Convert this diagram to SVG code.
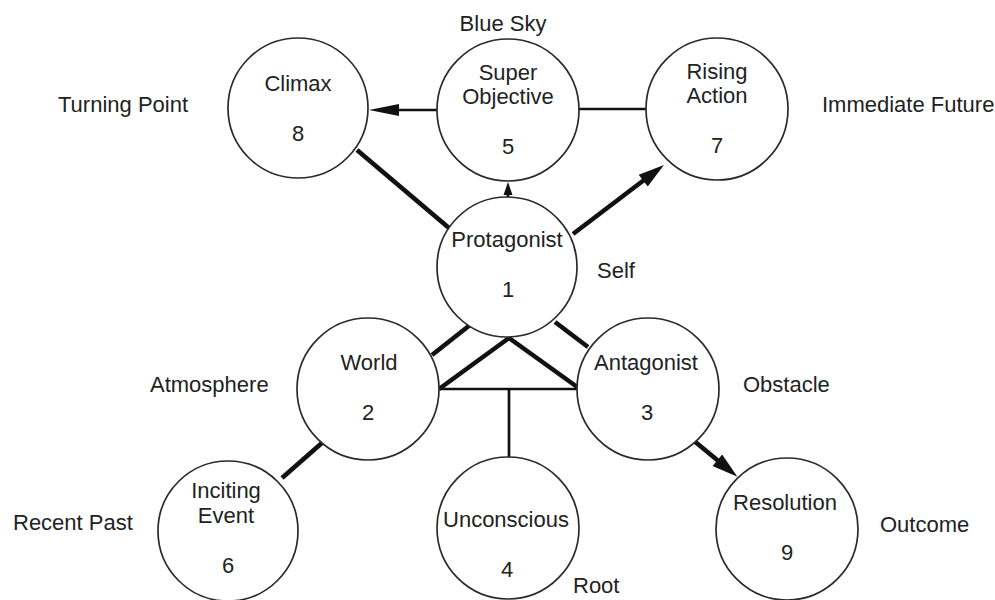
<svg xmlns="http://www.w3.org/2000/svg" width="995" height="600" viewBox="0 0 995 600">
<style>
  text { font-family: "Liberation Sans", Arial, Helvetica, sans-serif; font-size: 22px; fill: #222; }
  .n text { text-anchor: middle; }
  .n circle { fill: #fff; stroke: #2a2a2a; stroke-width: 1.7; }
  .c line, .c polyline { stroke: #111; fill: none; }
  .thick { stroke-width: 4.6; }
  .thin { stroke-width: 2.7; }
</style>
<defs>
  <marker id="big" markerUnits="userSpaceOnUse" markerWidth="26" markerHeight="15" refX="6" refY="7.5" orient="auto" overflow="visible">
    <path d="M0,0 L26,7.5 L0,15 z" fill="#111"/>
  </marker>
  <marker id="mid" markerUnits="userSpaceOnUse" markerWidth="30" markerHeight="12" refX="6" refY="6" orient="auto" overflow="visible">
    <path d="M0,0 L30,6 L0,12 z" fill="#111"/>
  </marker>
  <marker id="small" markerUnits="userSpaceOnUse" markerWidth="13" markerHeight="9" refX="3" refY="4.5" orient="auto" overflow="visible">
    <path d="M0,0 L13,4.5 L0,9 z" fill="#111"/>
  </marker>
</defs>
<rect width="995" height="600" fill="#fff"/>

<g id="connectors" class="c">
  <line class="thin" x1="437" y1="110" x2="393" y2="110" marker-end="url(#mid)"/>
  <line class="thin" x1="579" y1="109" x2="646" y2="109"/>
  <line class="thin" x1="508" y1="197" x2="508" y2="192" marker-end="url(#small)"/>
  <line class="thick" x1="357" y1="150" x2="449" y2="228"/>
  <line class="thick" x1="573" y1="234" x2="648" y2="177" marker-end="url(#big)"/>
  <line class="thick" x1="470" y1="325" x2="432" y2="355"/>
  <line class="thick" x1="555" y1="322" x2="588" y2="347"/>
  <polyline class="thick" points="439,389 509,338 580,389"/>
  <line class="thin" x1="439" y1="389" x2="580" y2="389"/>
  <line class="thin" x1="509" y1="389" x2="509" y2="458"/>
  <line class="thick" x1="323" y1="442" x2="282" y2="478"/>
  <line class="thick" x1="693" y1="440" x2="722" y2="464" marker-end="url(#big)"/>
</g>

<g id="node8" class="n">
  <circle cx="298" cy="108" r="70"/>
  <text x="298" y="91">Climax</text>
  <text x="298" y="141">8</text>
</g>
<g id="node5" class="n">
  <circle cx="508" cy="110" r="71"/>
  <text x="508" y="80">Super</text>
  <text x="508" y="104">Objective</text>
  <text x="508" y="154">5</text>
</g>
<g id="node7" class="n">
  <circle cx="717" cy="109" r="71"/>
  <text x="717" y="79">Rising</text>
  <text x="717" y="103">Action</text>
  <text x="717" y="153">7</text>
</g>
<g id="node1" class="n">
  <circle cx="507" cy="267" r="70"/>
  <text x="507" y="247">Protagonist</text>
  <text x="508" y="297">1</text>
</g>
<g id="node2" class="n">
  <circle cx="368" cy="389" r="71"/>
  <text x="369" y="370">World</text>
  <text x="368" y="420">2</text>
</g>
<g id="node3" class="n">
  <circle cx="648" cy="389" r="71"/>
  <text x="646" y="370">Antagonist</text>
  <text x="647" y="420">3</text>
</g>
<g id="node6" class="n">
  <circle cx="228" cy="531" r="70"/>
  <text x="226" y="498">Inciting</text>
  <text x="226" y="523">Event</text>
  <text x="228" y="573">6</text>
</g>
<g id="node4" class="n">
  <circle cx="508" cy="528" r="71"/>
  <text x="506" y="527">Unconscious</text>
  <text x="507" y="577">4</text>
</g>
<g id="node9" class="n">
  <circle cx="787" cy="529" r="71"/>
  <text x="785" y="510">Resolution</text>
  <text x="787" y="560">9</text>
</g>

<g id="labels">
  <text x="503" y="31" text-anchor="middle">Blue Sky</text>
  <text x="58" y="112">Turning Point</text>
  <text x="822" y="112">Immediate Future</text>
  <text x="597" y="278">Self</text>
  <text x="150" y="392">Atmosphere</text>
  <text x="743" y="392">Obstacle</text>
  <text x="13" y="530">Recent Past</text>
  <text x="880" y="532">Outcome</text>
  <text x="573" y="593">Root</text>
</g>
</svg>
